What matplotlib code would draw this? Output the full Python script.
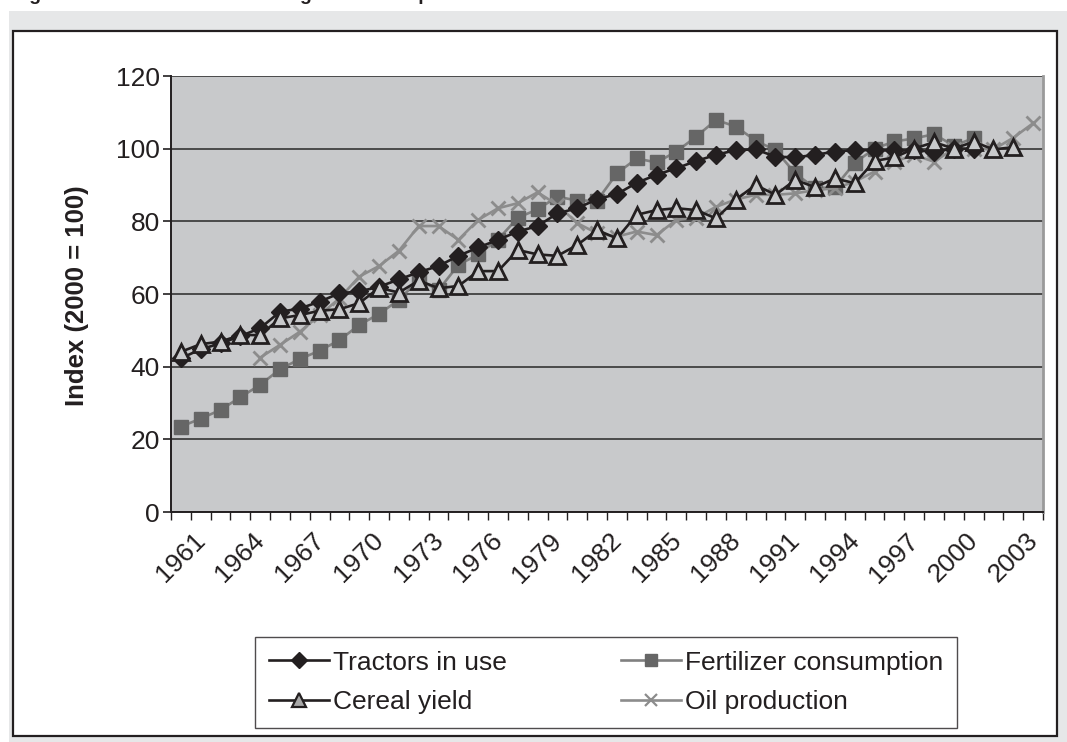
import numpy as np
import matplotlib
matplotlib.use("Agg")
import matplotlib.pyplot as plt
from matplotlib.patches import Rectangle
from matplotlib.lines import Line2D
from matplotlib.transforms import ScaledTranslation

nan = np.nan
years = list(range(1961, 2005))
tick_years = list(range(1961, 2004, 3))

tractors = [42.3, 44.8, 46.4, 48.4, 50.6, 55.1, 56.0, 57.9, 60.2, 60.7,
            62.0, 64.0, 66.0, 67.7, 70.5, 72.8, 74.9, 77.2, 78.7, 82.2,
            83.6, 86.1, 87.5, 90.6, 92.8, 94.6, 96.6, 98.3, 99.6, 99.8,
            97.8, 97.6, 98.3, 99.2, 99.6, 99.6, 99.5, 99.5, 99.2, 100.0,
            100.0, nan, nan, nan]
fertilizer = [23.5, 25.7, 28.1, 31.6, 35.0, 39.3, 42.1, 44.4, 47.3, 51.5,
              54.5, 58.4, 63.9, 61.1, 68.0, 70.9, 75.0, 81.0, 83.3, 86.8,
              85.7, 85.7, 93.2, 97.3, 96.2, 99.2, 103.3, 107.9, 106.1, 102.2,
              99.6, 93.2, 89.1, 89.4, 96.1, 100.0, 102.0, 102.8, 104.0, 100.8,
              102.9, nan, nan, nan]
cereal = [44.1, 46.2, 46.9, 48.7, 48.7, 53.3, 54.2, 55.4, 55.8, 57.5,
          61.7, 60.4, 63.7, 61.6, 62.2, 66.3, 66.3, 72.1, 70.9, 70.5,
          73.5, 77.6, 75.3, 81.8, 83.1, 83.6, 83.1, 80.8, 86.0, 90.0,
          87.3, 91.4, 89.4, 91.8, 90.5, 96.6, 97.6, 100.0, 101.8, 100.0,
          101.9, 99.8, 100.4, nan]
oil = [nan, nan, nan, nan, 42.5, 46.0, 49.6, 54.2, 58.8, 64.8,
       67.7, 71.9, 78.7, 78.7, 74.9, 80.4, 83.6, 85.0, 88.0, 84.5,
       79.5, 76.7, 75.8, 77.2, 76.2, 80.4, 81.0, 84.0, 86.0, 87.3,
       87.3, 87.7, 88.6, 89.1, 90.9, 93.7, 96.4, 98.3, 96.4, 100.0,
       100.0, 99.8, 103.0, 107.0]

plt.rcParams['font.family'] = ['Liberation Sans', 'DejaVu Sans']

W, H = 1067, 742
fig = plt.figure(figsize=(W / 100, H / 100), dpi=100)
fig.patch.set_facecolor('white')

def px_rect(x0, y0, x1, y1, **kw):
    r = Rectangle((x0 / W, 1 - y1 / H), (x1 - x0) / W, (y1 - y0) / H,
                  transform=fig.transFigure, **kw)
    fig.add_artist(r)
    return r

px_rect(9, 11, 1067, 742, facecolor='#e6e7e8', edgecolor='none', zorder=0)
px_rect(13, 31, 1057, 736, facecolor='white', edgecolor='#231f20', linewidth=1.6, zorder=0.5)

# cut-off caption at very top (only descenders visible in the reference)
fig.text(12 / W, 1.0, "Figure 2: Trends in the use of agricultural inputs",
         fontsize=14, fontweight='bold', va='baseline', ha='left', color='#231f20')

ax = fig.add_axes([171 / W, 1 - 512 / H, (1043 - 171) / W, (512 - 76) / H])
ax.set_facecolor('#c8c9cb')
ax.set_zorder(2)

x = np.arange(len(years))
ax.plot(x, fertilizer, color='#808080', lw=1.9, marker='s', ms=10,
        mfc='#666666', mec='#666666', zorder=3)
ax.plot(x, oil, color='#8c8c8c', lw=1.9, marker='x', ms=10.5, mew=2.0,
        mec='#8c8c8c', zorder=3)
ax.plot(x, tractors, color='#231f20', lw=1.9, marker='D', ms=9,
        mfc='#231f20', mec='#231f20', zorder=4)
ax.plot(x, cereal, color='#231f20', lw=1.9, marker='^', ms=11.5, mew=2.0,
        mfc='#c8c9cb', mec='#231f20', zorder=5)

ax.set_xlim(-0.5, len(years) - 0.5)
ax.set_ylim(0, 120)
ax.set_yticks(range(0, 121, 20))
ax.yaxis.grid(True, color='#4a4a4a', lw=1.4)
ax.set_axisbelow(True)
ax.tick_params(axis='y', labelsize=19, length=6, width=1.2, color='#231f20',
               labelcolor='#231f20', pad=2)

ax.set_xticks([y - 1961 for y in tick_years])
ax.set_xticklabels([str(y) for y in tick_years], rotation=45, ha='right',
                   va='top', rotation_mode='anchor', fontsize=19, color='#231f20')
ax.set_xticks(np.arange(-0.5, len(years)), minor=True)
ax.tick_params(axis='x', which='major', length=0, pad=9)
ax.tick_params(axis='x', which='minor', length=6, width=1.0, color='#231f20')
shift = ScaledTranslation(12 / 100, -4 / 100, fig.dpi_scale_trans)
for lbl in ax.get_xticklabels():
    lbl.set_transform(lbl.get_transform() + shift)

for s in ['left', 'bottom']:
    ax.spines[s].set_color('#231f20')
    ax.spines[s].set_linewidth(1.4)
ax.spines['top'].set_visible(False)
ax.spines['right'].set_color('#9a9a9a')
ax.spines['right'].set_linewidth(2.0)

fig.text(77 / W, 1 - 296 / H, 'Index (2000 = 100)', rotation=90, fontsize=18.5,
         fontweight='bold', ha='center', va='center', color='#231f20')

labels = ['Tractors in use', 'Cereal yield', 'Fertilizer consumption', 'Oil production']
leg_handles = [
    Line2D([], [], color='#231f20', lw=1.9, marker='D', ms=8, mfc='#231f20', mec='#231f20'),
    Line2D([], [], color='#231f20', lw=1.9, marker='^', ms=10, mew=1.6, mfc='#a8a8a8', mec='#231f20'),
    Line2D([], [], color='#808080', lw=1.9, marker='s', ms=8, mfc='#666666', mec='#666666'),
    Line2D([], [], color='#8c8c8c', lw=1.9, marker='x', ms=9, mew=1.6, mec='#8c8c8c'),
]
leg = fig.legend(leg_handles, labels, ncol=2, loc='center',
                 bbox_to_anchor=(606 / W, 1 - 682.5 / H), fontsize=19,
                 frameon=True, fancybox=False, edgecolor='#231f20',
                 handlelength=2.3, handletextpad=0.15, columnspacing=4.3,
                 labelspacing=0.6, borderpad=0.5, borderaxespad=0)
leg.get_frame().set_linewidth(1.0)
for t in leg.get_texts():
    t.set_color('#231f20')

fig.savefig('out.png', dpi=100)
